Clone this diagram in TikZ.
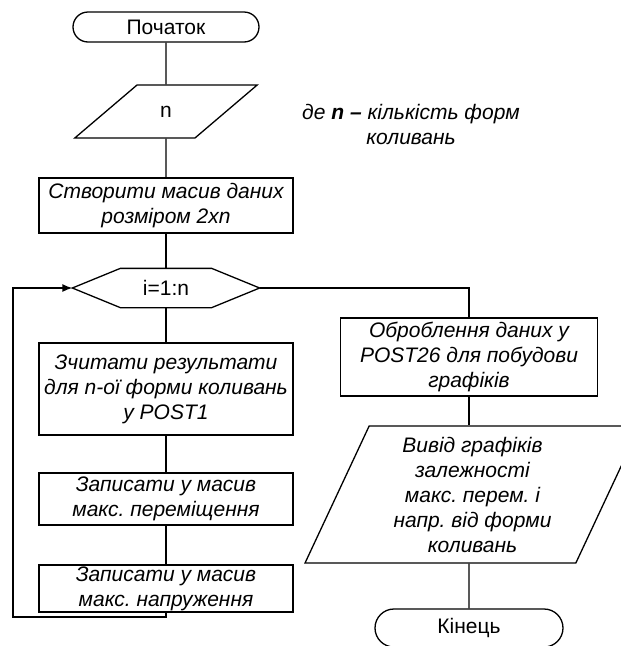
\documentclass[tikz,border=0pt]{standalone}
\usepackage{fontspec}
\setmainfont{Liberation Sans}
\usepackage{tikz}
\usetikzlibrary{arrows,arrows.meta,shapes,positioning}
\frenchspacing

\begin{document}
\begin{tikzpicture}
        [
            x=1pt, y=-1pt,
            line width=1.3pt,
            every node/.style={font=\fontsize{21}{25}\selectfont, align=center, inner sep=0pt},
            term/.style={rounded rectangle, draw, minimum width=186pt, minimum height=30pt},
            io/.style={trapezium, draw, trapezium stretches=true},
            proc/.style={rectangle, draw, font=\fontsize{21}{25}\selectfont\itshape, minimum width=254pt},
            loophex/.style={rectangle, minimum width=186pt, minimum height=38pt},
            note/.style={font=\fontsize{21}{25}\selectfont\itshape},
        ]
            \useasboundingbox (0,0) rectangle (621,646);

            \node[term] (start) at (166, 27) {Початок};
            \node[io, trapezium left angle=42, trapezium right angle=138,
                minimum width=183pt, minimum height=53pt] (inp) at (166, 111.5) {n};
            \node[note] (nnote) at (411, 124.5) {де \textbf{n –} кількість форм\\коливань};
            \node[proc, minimum height=55pt] (arr) at (166, 205.5) {Створити масив даних\\розміром 2xn};
            \node[loophex] (loop) at (166, 288) {i=1:n};
            \node[proc, minimum height=92pt] (read) at (166, 389) {Зчитати результати\\для n-ої форми коливань\\у POST1};
            \node[proc, minimum height=52pt] (disp) at (166, 499) {Записати у масив\\макс. переміщення};
            \node[proc, minimum height=47pt] (stress) at (166, 588.5) {Записати у масив\\макс. напруження};

            \node[proc, minimum width=257pt, minimum height=78pt] (post) at (469, 357) {Оброблення даних у\\POST26 для побудови\\графіків};
            \node[io, font=\fontsize{21}{25}\selectfont\itshape, trapezium left angle=67, trapezium right angle=113,
                minimum width=335pt, minimum height=137pt] (outp) at (472.5, 494.5) {Вивід графіків\\залежності\\макс. перем. і\\напр. від форми\\коливань};
            \node[term, minimum width=188pt, minimum height=38pt] (end) at (469, 628) {Кінець};

            \draw (loop.west) -- ([xshift=48pt]loop.north west) -- ([xshift=-48pt]loop.north east)
                -- (loop.east) -- ([xshift=-48pt]loop.south east) -- ([xshift=48pt]loop.south west) -- cycle;

            \coordinate (lbot) at (13, 617);

            \draw (start) -- (inp);
            \draw (inp) -- (arr);
            \draw (arr) -- (loop);
            \draw (loop) -- (read);
            \draw (read) -- (disp);
            \draw (disp) -- (stress);
            \draw[-{Latex[length=10pt,width=8pt]}] (stress.south) |- (lbot) |- (loop.west);
            \draw (loop.east) -| (post.north);
            \draw (post) -- (post |- outp.north);
            \draw (post |- outp.south) -- (end);
        \end{tikzpicture}
\end{document}
